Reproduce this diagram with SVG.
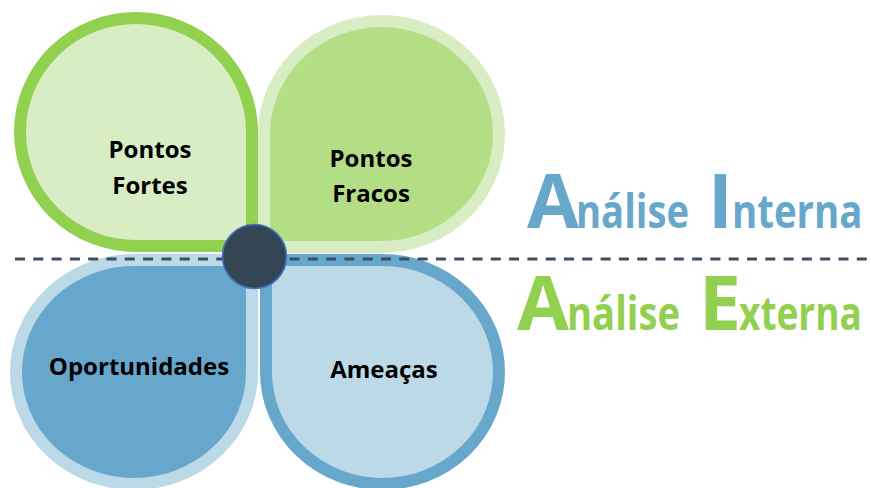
<svg xmlns="http://www.w3.org/2000/svg" width="871" height="488" viewBox="0 0 871 488">
<style>
.petal{stroke-width:12;stroke-linejoin:miter}
.lbl{font-family:"Open Sans","Liberation Sans",sans-serif;font-weight:700;font-size:24px;fill:#000;text-anchor:middle}
.title{font-family:"Open Sans","Liberation Sans",sans-serif;font-weight:700}
.big{font-size:75px}
.small{font-size:46px}
.blue{fill:#68a7cc}
.green{fill:#92d050}
</style>
<rect width="871" height="488" fill="#ffffff"/>
<g id="pontos-fortes">
<path class="petal" d="M252,246 L136,246 A116,114 0 0 1 20,132 A116,114 0 0 1 136,18 A116,114 0 0 1 252,132 Z" fill="#d9edc5" stroke="#92d050"/>
<text class="lbl" x="150" y="158">Pontos</text>
<text class="lbl" x="150" y="194">Fortes</text>
</g>
<g id="pontos-fracos">
<path class="petal" d="M264,247 L264,134 A117.5,113 0 0 1 381.5,21 A117.5,113 0 0 1 499,134 A117.5,113 0 0 1 381.5,247 Z" fill="#b3de86" stroke="#d9edc5"/>
<text class="lbl" x="371" y="167">Pontos</text>
<text class="lbl" x="371" y="202">Fracos</text>
</g>
<g id="oportunidades">
<path class="petal" d="M252,260 L252,372 A118,112 0 0 1 134,484 A118,112 0 0 1 16,372 A118,112 0 0 1 134,260 Z" fill="#68a7cc" stroke="#bcd9e7"/>
<text class="lbl" x="139" y="375">Oportunidades</text>
</g>
<g id="ameacas">
<path class="petal" d="M266,260 L382.5,260 A116.5,112 0 0 1 499,372 A116.5,112 0 0 1 382.5,484 A116.5,112 0 0 1 266,372 Z" fill="#bcd9e7" stroke="#68a7cc"/>
<text class="lbl" x="384" y="378">Ameaças</text>
</g>
<g id="connectors">
<line x1="15" y1="259" x2="871" y2="259" stroke="#3c4f5e" stroke-width="3" stroke-dasharray="10 8.3"/>
</g>
<g id="centro">
<circle cx="254.5" cy="256.5" r="32" fill="#344654" stroke="#4472c4" stroke-width="1.5"/>
</g>
<g id="analise-interna">
<text class="title big blue" x="527" y="228" textLength="52" lengthAdjust="spacingAndGlyphs">A</text>
<text class="title small blue" transform="translate(576,228) scale(0.83,1)">nálise</text>
<text class="title big blue" x="720.5" y="228" text-anchor="middle">I</text>
<text class="title small blue" transform="translate(732,228) scale(0.835,1)">nterna</text>
</g>
<g id="analise-externa">
<text class="title big green" x="517" y="330" textLength="52" lengthAdjust="spacingAndGlyphs">A</text>
<text class="title small green" transform="translate(567,330) scale(0.83,1)">nálise</text>
<text class="title big green" x="699" y="330">E</text>
<text class="title small green" transform="translate(739,330) scale(0.805,1)">xterna</text>
</g>
</svg>
